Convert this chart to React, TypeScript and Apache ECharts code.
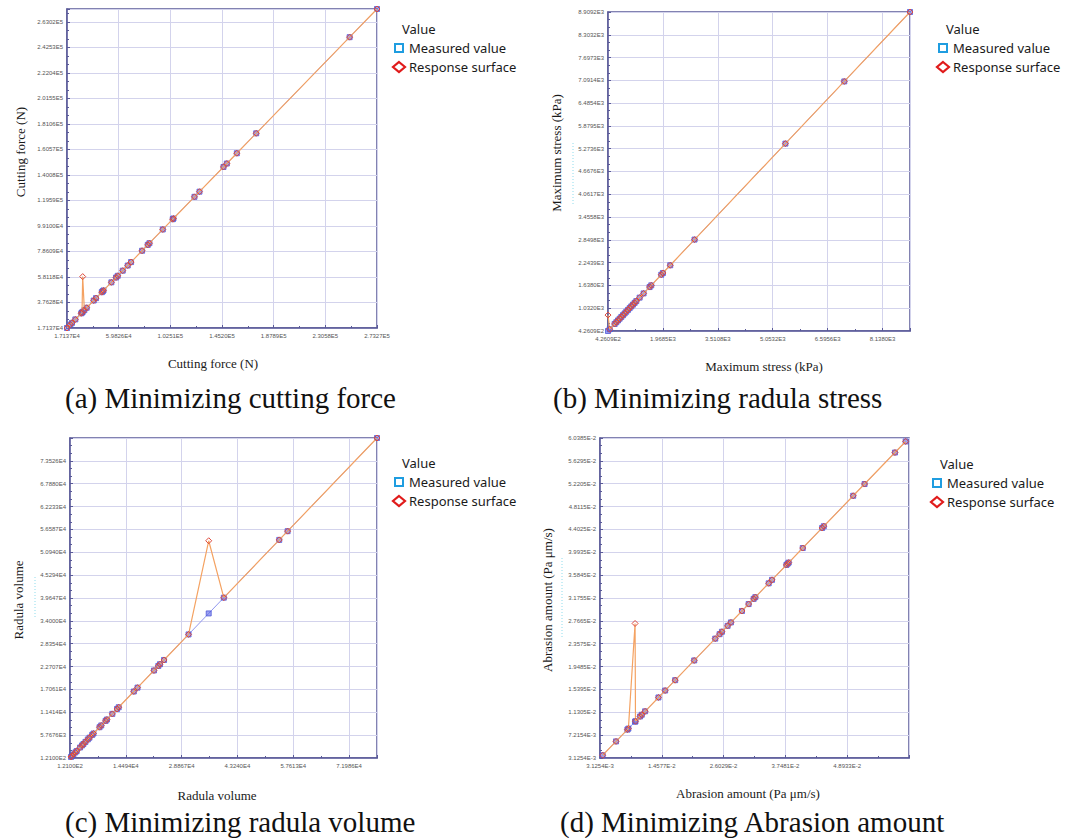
import React, { useEffect, useRef } from 'react';
import * as echarts from 'echarts';

// ---------- (a) Minimizing cutting force ----------
const cutMeasured = [17137, 19894, 21272, 24030, 28900, 29544, 30100, 31473, 33403, 39193, 41123, 45900, 46637, 47300, 53805, 57665, 59043, 63179, 67314, 70071, 79169, 83856, 85235, 96263, 104500, 105085, 122454, 126590, 146440, 149197, 157468, 173458, 250653, 273271];
const cutResponse = [17137, 19894, 21272, 24030, 28900, 29544, 58400, 31473, 33403, 39193, 41123, 45900, 46637, 47300, 53805, 57665, 59043, 63179, 67314, 70071, 79169, 83856, 85235, 96263, 104500, 105085, 122454, 126590, 146440, 149197, 157468, 173458, 250653, 273271];
const cutXTicks = ['1.7137E4', '5.9826E4', '1.0251E5', '1.4520E5', '1.8789E5', '2.3058E5', '2.7327E5'];
const cutYTicks = ['1.7137E4', '3.7628E4', '5.8118E4', '7.8609E4', '9.9100E4', '1.1959E5', '1.4008E5', '1.6057E5', '1.8106E5', '2.0155E5', '2.2204E5', '2.4253E5', '2.6302E5'];

// ---------- (b) Minimizing radula stress ----------
const stressMeasured = [426.09, 473, 613, 660, 707, 753, 800, 847, 893, 940, 987, 1034, 1080, 1127, 1174, 1221, 1314, 1426, 1595, 1641, 1922, 1969, 2174, 2857, 5409, 7063, 8909.2];
const stressResponse = [850, 473, 613, 660, 707, 753, 800, 847, 893, 940, 987, 1034, 1080, 1127, 1174, 1221, 1314, 1426, 1595, 1641, 1922, 1969, 2174, 2857, 5409, 7063, 8909.2];
const stressXTicks = ['4.2609E2', '1.9685E3', '3.5108E3', '5.0532E3', '6.5956E3', '8.1380E3'];
const stressYTicks = ['4.2609E2', '1.0320E3', '1.6380E3', '2.2439E3', '2.8498E3', '3.4558E3', '4.0617E3', '4.6676E3', '5.2736E3', '5.8795E3', '6.4854E3', '7.0914E3', '7.6973E3', '8.3032E3', '8.9092E3'];

// ---------- (c) Minimizing radula volume ----------
const volMeasured = [380, 640, 986, 1505, 1851, 2715, 3234, 3580, 4099, 4704, 5137, 5829, 6175, 7731, 8164, 9288, 9634, 11017, 12228, 12661, 16552, 17503, 21741, 22865, 23298, 24335, 30648, 35837, 39729, 53998, 56160, 79173];
const volResponse = [380, 640, 986, 1505, 1851, 2715, 3234, 3580, 4099, 4704, 5137, 5829, 6175, 7731, 8164, 9288, 9634, 11017, 12228, 12661, 16552, 17503, 21741, 22865, 23298, 24335, 30648, 53787, 39729, 53998, 56160, 79173];
const volXTicks = ['1.2100E2', '1.4494E4', '2.8867E4', '4.3240E4', '5.7613E4', '7.1986E4'];
const volYTicks = ['1.2100E2', '5.7676E3', '1.1414E4', '1.7061E4', '2.2707E4', '2.8354E4', '3.4000E4', '3.9647E4', '4.5294E4', '5.0940E4', '5.6587E4', '6.2233E4', '6.7880E4', '7.3526E4'];

// ---------- (d) Minimizing abrasion amount ----------
const abrMeasured = [0.003621, 0.006096, 0.0082, 0.008387, 0.009625, 0.0097, 0.010554, 0.010863, 0.011482, 0.013958, 0.015196, 0.017053, 0.020581, 0.024481, 0.025286, 0.025719, 0.026771, 0.02739, 0.029433, 0.030671, 0.0316, 0.031909, 0.034385, 0.035004, 0.037666, 0.0379, 0.038099, 0.040699, 0.044289, 0.044599, 0.050046, 0.052151, 0.057784, 0.059765];
const abrResponse = [0.003621, 0.006096, 0.0082, 0.008387, 0.0272, 0.0097, 0.010554, 0.010863, 0.011482, 0.013958, 0.015196, 0.017053, 0.020581, 0.024481, 0.025286, 0.025719, 0.026771, 0.02739, 0.029433, 0.030671, 0.0316, 0.031909, 0.034385, 0.035004, 0.037666, 0.0379, 0.038099, 0.040699, 0.044289, 0.044599, 0.050046, 0.052151, 0.057784, 0.059765];
const abrXTicks = ['3.1254E-3', '1.4577E-2', '2.6029E-2', '3.7481E-2', '4.8933E-2'];
const abrYTicks = ['3.1254E-3', '7.2154E-3', '1.1305E-2', '1.5395E-2', '1.9485E-2', '2.3575E-2', '2.7665E-2', '3.1755E-2', '3.5845E-2', '3.9935E-2', '4.4025E-2', '4.8115E-2', '5.2205E-2', '5.6295E-2', '6.0385E-2'];

const axisTitles = ['Cutting force (N)', 'Maximum stress (kPa)', 'Radula volume', 'Abrasion amount (Pa \u03bcm/s)'];
const captions = ['(a) Minimizing cutting force', '(b) Minimizing radula stress', '(c) Minimizing radula volume', '(d) Minimizing Abrasion amount'];
const legendTitle = 'Value';
const seriesNames = ['Measured value', 'Response surface'];

type Panel = {
  measured: number[];
  response: number[];
  min: number;
  max: number;
  xInt: number;
  yInt: number;
  xTicks: string[];
  yTicks: string[];
  grid: { left: number; top: number; width: number; height: number };
  xTitle: [number, number];
  yTitle: [number, number];
  caption: [number, number];
  legend: [number, number];
};

const panels: Panel[] = [
  {
    measured: cutMeasured, response: cutResponse, min: 17137, max: 273271, xInt: 42689, yInt: 20490.72,
    xTicks: cutXTicks, yTicks: cutYTicks,
    grid: { left: 67, top: 9, width: 310, height: 319 },
    xTitle: [213, 363], yTitle: [20, 152], caption: [65, 398], legend: [402, 29],
  },
  {
    measured: stressMeasured, response: stressResponse, min: 426.09, max: 8909.2, xInt: 1542.4, yInt: 605.94,
    xTicks: stressXTicks, yTicks: stressYTicks,
    grid: { left: 608, top: 12, width: 302, height: 319 },
    xTitle: [764, 366], yTitle: [556, 153], caption: [553, 398], legend: [946, 29],
  },
  {
    measured: volMeasured, response: volResponse, min: 121, max: 79173, xInt: 14373, yInt: 5646.6,
    xTicks: volXTicks, yTicks: volYTicks,
    grid: { left: 70, top: 438, width: 307, height: 320 },
    xTitle: [217, 795], yTitle: [18, 600], caption: [65, 822], legend: [402, 463],
  },
  {
    measured: abrMeasured, response: abrResponse, min: 0.0031254, max: 0.0603854, xInt: 0.011452, yInt: 0.00409,
    xTicks: abrXTicks, yTicks: abrYTicks,
    grid: { left: 600, top: 438, width: 309, height: 320 },
    xTitle: [748, 793], yTitle: [547, 600], caption: [560, 822], legend: [940, 464],
  },
];

const FRAME = '#5a5a98';
const GRIDLINE = '#d3d3ec';

const fmt = (ticks: string[], int: number) => (v: number) => {
  const k = v / int;
  const r = Math.round(k);
  return Math.abs(k - r) < 0.01 && r >= 0 && r < ticks.length ? ticks[r] : '';
};

function buildOption() {
  const grid: any[] = [];
  const xAxis: any[] = [];
  const yAxis: any[] = [];
  const series: any[] = [];
  const graphic: any[] = [];

  panels.forEach((p, i) => {
    const range = p.max - p.min;
    grid.push({ ...p.grid, show: true, borderColor: FRAME, borderWidth: 1.5, containLabel: false });
    const common = {
      type: 'value',
      gridIndex: i,
      min: 0,
      max: range,
      axisLine: { show: true, onZero: false, lineStyle: { color: FRAME, width: 1.5 } },
      axisTick: { show: true, inside: true, length: 3, lineStyle: { color: FRAME } },
      minorTick: { show: true, splitNumber: 2, length: 2, lineStyle: { color: FRAME } },
      splitLine: { show: true, lineStyle: { color: GRIDLINE, width: 1 } },
      axisLabel: { fontSize: 6, color: '#555', fontFamily: 'Liberation Sans, Arial', hideOverlap: false },
    };
    xAxis.push({
      ...common,
      interval: p.xInt,
      axisLabel: { ...common.axisLabel, margin: 5, formatter: fmt(p.xTicks, p.xInt) },
    });
    yAxis.push({
      ...common,
      interval: p.yInt,
      minorTick: { ...common.minorTick, splitNumber: 3 },
      axisLabel: { ...common.axisLabel, margin: 4, formatter: fmt(p.yTicks, p.yInt) },
    });
    series.push({
      type: 'line',
      name: seriesNames[0],
      xAxisIndex: i,
      yAxisIndex: i,
      data: p.measured.map((m) => [m - p.min, m - p.min]),
      symbol: 'rect',
      symbolSize: 5,
      lineStyle: { color: '#9096ee', width: 1 },
      itemStyle: { color: 'rgba(90,100,230,0.6)', borderColor: '#4f58d8', borderWidth: 0.8 },
      z: 2,
    });
    series.push({
      type: 'line',
      name: seriesNames[1],
      xAxisIndex: i,
      yAxisIndex: i,
      data: p.measured.map((m, j) => [m - p.min, p.response[j] - p.min]),
      symbol: 'diamond',
      symbolSize: 6,
      lineStyle: { color: '#f4a262', width: 1.2 },
      itemStyle: { color: 'rgba(255,255,255,0)', borderColor: '#de4a3c', borderWidth: 1 },
      z: 3,
    });

    // axis titles
    graphic.push({
      type: 'text', x: p.xTitle[0], y: p.xTitle[1],
      style: { text: axisTitles[i], fontSize: 13, fontFamily: 'Liberation Serif', fill: '#1a1a1a', align: 'center', verticalAlign: 'middle' },
    });
    graphic.push({
      type: 'text', x: p.yTitle[0], y: p.yTitle[1], rotation: Math.PI / 2,
      style: { text: axisTitles[i], fontSize: 13, fontFamily: 'Liberation Serif', fill: '#1a1a1a', align: 'center', verticalAlign: 'middle' },
    });
    // caption
    graphic.push({
      type: 'text', x: p.caption[0], y: p.caption[1],
      style: { text: captions[i], fontSize: 29, fontFamily: 'Liberation Serif', fill: '#111', align: 'left', verticalAlign: 'middle' },
    });
    // legend
    const [vx, vy] = p.legend;
    graphic.push({
      type: 'text', x: vx, y: vy,
      style: { text: legendTitle, fontSize: 13, fontFamily: 'Noto Sans', fill: '#1a1a1a', align: 'left', verticalAlign: 'middle' },
    });
    graphic.push({
      type: 'rect', shape: { x: vx - 7, y: vy + 15, width: 8, height: 8 },
      style: { fill: 'none', stroke: '#1f9de0', lineWidth: 2 },
    });
    graphic.push({
      type: 'text', x: vx + 7, y: vy + 19,
      style: { text: seriesNames[0], fontSize: 13, fontFamily: 'Noto Sans', fill: '#1a1a1a', align: 'left', verticalAlign: 'middle' },
    });
    graphic.push({
      type: 'polygon', shape: { points: [[vx - 3, vy + 33], [vx + 3, vy + 38], [vx - 3, vy + 43], [vx - 9, vy + 38]] },
      style: { fill: 'none', stroke: '#e01b1b', lineWidth: 2.2 },
    });
    graphic.push({
      type: 'text', x: vx + 7, y: vy + 38,
      style: { text: seriesNames[1], fontSize: 13, fontFamily: 'Noto Sans', fill: '#1a1a1a', align: 'left', verticalAlign: 'middle' },
    });
  });

  // small cyan dotted artefacts next to y titles
  const cyan = [
    [573, 143, 205],
    [35, 577, 618],
    [562, 558, 638],
  ];
  cyan.forEach(([x, y1, y2]) =>
    graphic.push({
      type: 'line', shape: { x1: x, y1, x2: x, y2 },
      style: { stroke: '#8fdcec', lineWidth: 1, lineDash: [1, 2] },
    })
  );

  return {
    animation: false,
    backgroundColor: '#ffffff',
    grid,
    xAxis,
    yAxis,
    series,
    graphic,
  };
}

export default function App() {
  const ref = useRef<HTMLDivElement>(null);
  useEffect(() => {
    if (!ref.current) return;
    const chart = echarts.init(ref.current, undefined, { renderer: 'svg' });
    chart.setOption(buildOption() as any);
    return () => chart.dispose();
  }, []);
  return (
    <div
      ref={ref}
      style={{ position: 'fixed', left: 0, top: 0, width: 1081, height: 838, background: '#fff' }}
    />
  );
}
